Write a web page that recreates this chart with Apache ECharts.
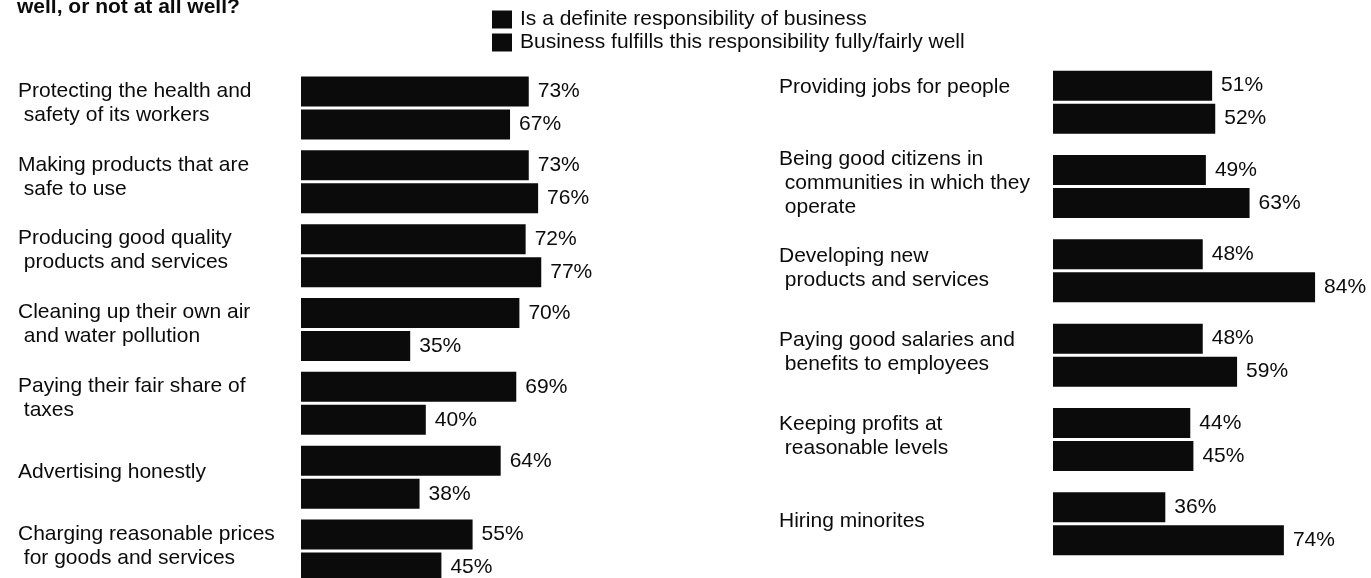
<!DOCTYPE html>
<html>
<head>
<meta charset="utf-8">
<script src="https://cdn.jsdelivr.net/npm/echarts@6/dist/echarts.min.js"></script>
<style>
  html, body { margin: 0; padding: 0; background: #ffffff; overflow: hidden; }
  /* the lowest bar pair runs past the bottom edge of the page */
  #chart { width: 1371px; height: 600px; }
</style>
</head>
<body>
<div id="chart"></div>
<script>
// Responsibilities listed in the left column
const leftCategories = [
  'Protecting the health and\n safety of its workers',
  'Making products that are\n safe to use',
  'Producing good quality\n products and services',
  'Cleaning up their own air\n and water pollution',
  'Paying their fair share of\n taxes',
  'Advertising honestly',
  'Charging reasonable prices\n for goods and services'
];
const leftDefinite = [73, 73, 72, 70, 69, 64, 55];
const leftFulfills = [67, 76, 77, 35, 40, 38, 45];

// Responsibilities listed in the right column
const rightCategories = [
  'Providing jobs for people',
  'Being good citizens in\n communities in which they\n operate',
  'Developing new\n products and services',
  'Paying good salaries and\n benefits to employees',
  'Keeping profits at\n reasonable levels',
  'Hiring minorites'
];
const rightDefinite = [51, 49, 48, 48, 44, 36];
const rightFulfills = [52, 63, 84, 59, 45, 74];

const seriesNames = [
  'Is a definite responsibility of business',
  'Business fulfills this responsibility fully/fairly well'
];

const FONT = '"Liberation Sans", Arial, Helvetica, sans-serif';
const INK = '#0b0b0b';
const SIZE = 21;

const chart = echarts.init(document.getElementById('chart'), null, { renderer: 'canvas' });

function valueAxis(gridIndex) {
  return { type: 'value', gridIndex, min: 0, max: 100, show: false };
}

// Category text sits a little above the middle of its bar pair:
// an empty spacer line of the given height is added beneath it.
function categoryAxis(gridIndex, data, margin, spacer, firstSpacer) {
  return {
    type: 'category',
    gridIndex,
    inverse: true,
    data,
    axisLine: { show: false },
    axisTick: { show: false },
    splitLine: { show: false },
    axisLabel: {
      align: 'left',
      margin,
      color: INK,
      fontFamily: FONT,
      fontSize: SIZE,
      lineHeight: 24,
      formatter: (value, index) =>
        value + (index === 0 && firstSpacer ? '\n{first| }' : '\n{gap| }'),
      rich: {
        gap: { fontSize: 1, lineHeight: spacer },
        first: { fontSize: 1, lineHeight: firstSpacer || spacer }
      }
    }
  };
}

function barSeries(name, data, axisIndex) {
  return {
    name,
    type: 'bar',
    xAxisIndex: axisIndex,
    yAxisIndex: axisIndex,
    data,
    barWidth: 30,
    barGap: '10%',
    itemStyle: { color: INK },
    label: {
      show: true,
      position: 'right',
      distance: 9,
      formatter: '{c}%',
      color: INK,
      fontFamily: FONT,
      fontSize: SIZE
    },
    animation: false
  };
}

const option = {
  backgroundColor: '#ffffff',
  animation: false,
  graphic: [{
    type: 'text',
    left: 17,
    top: -3,
    style: {
      text: 'well, or not at all well?',
      font: 'bold 21px ' + FONT,
      fill: INK
    }
  }],
  legend: {
    data: seriesNames,
    orient: 'vertical',
    left: 492,
    top: 9,
    padding: 0,
    itemWidth: 20,
    itemHeight: 18,
    itemGap: 2,
    icon: 'rect',
    selectedMode: false,
    textStyle: { color: INK, fontFamily: FONT, fontSize: SIZE, padding: [0, 0, 0, 3] }
  },
  grid: [
    { left: 301, top: 71, width: 312, height: 517 },
    { left: 1053, top: 60, width: 312, height: 506 }
  ],
  xAxis: [valueAxis(0), valueAxis(1)],
  yAxis: [
    categoryAxis(0, leftCategories, 283, 10),
    categoryAxis(1, rightCategories, 274, 6, 30)
  ],
  series: [
    barSeries(seriesNames[0], leftDefinite, 0),
    barSeries(seriesNames[1], leftFulfills, 0),
    barSeries(seriesNames[0], rightDefinite, 1),
    barSeries(seriesNames[1], rightFulfills, 1)
  ]
};

chart.setOption(option);
</script>
</body>
</html>
